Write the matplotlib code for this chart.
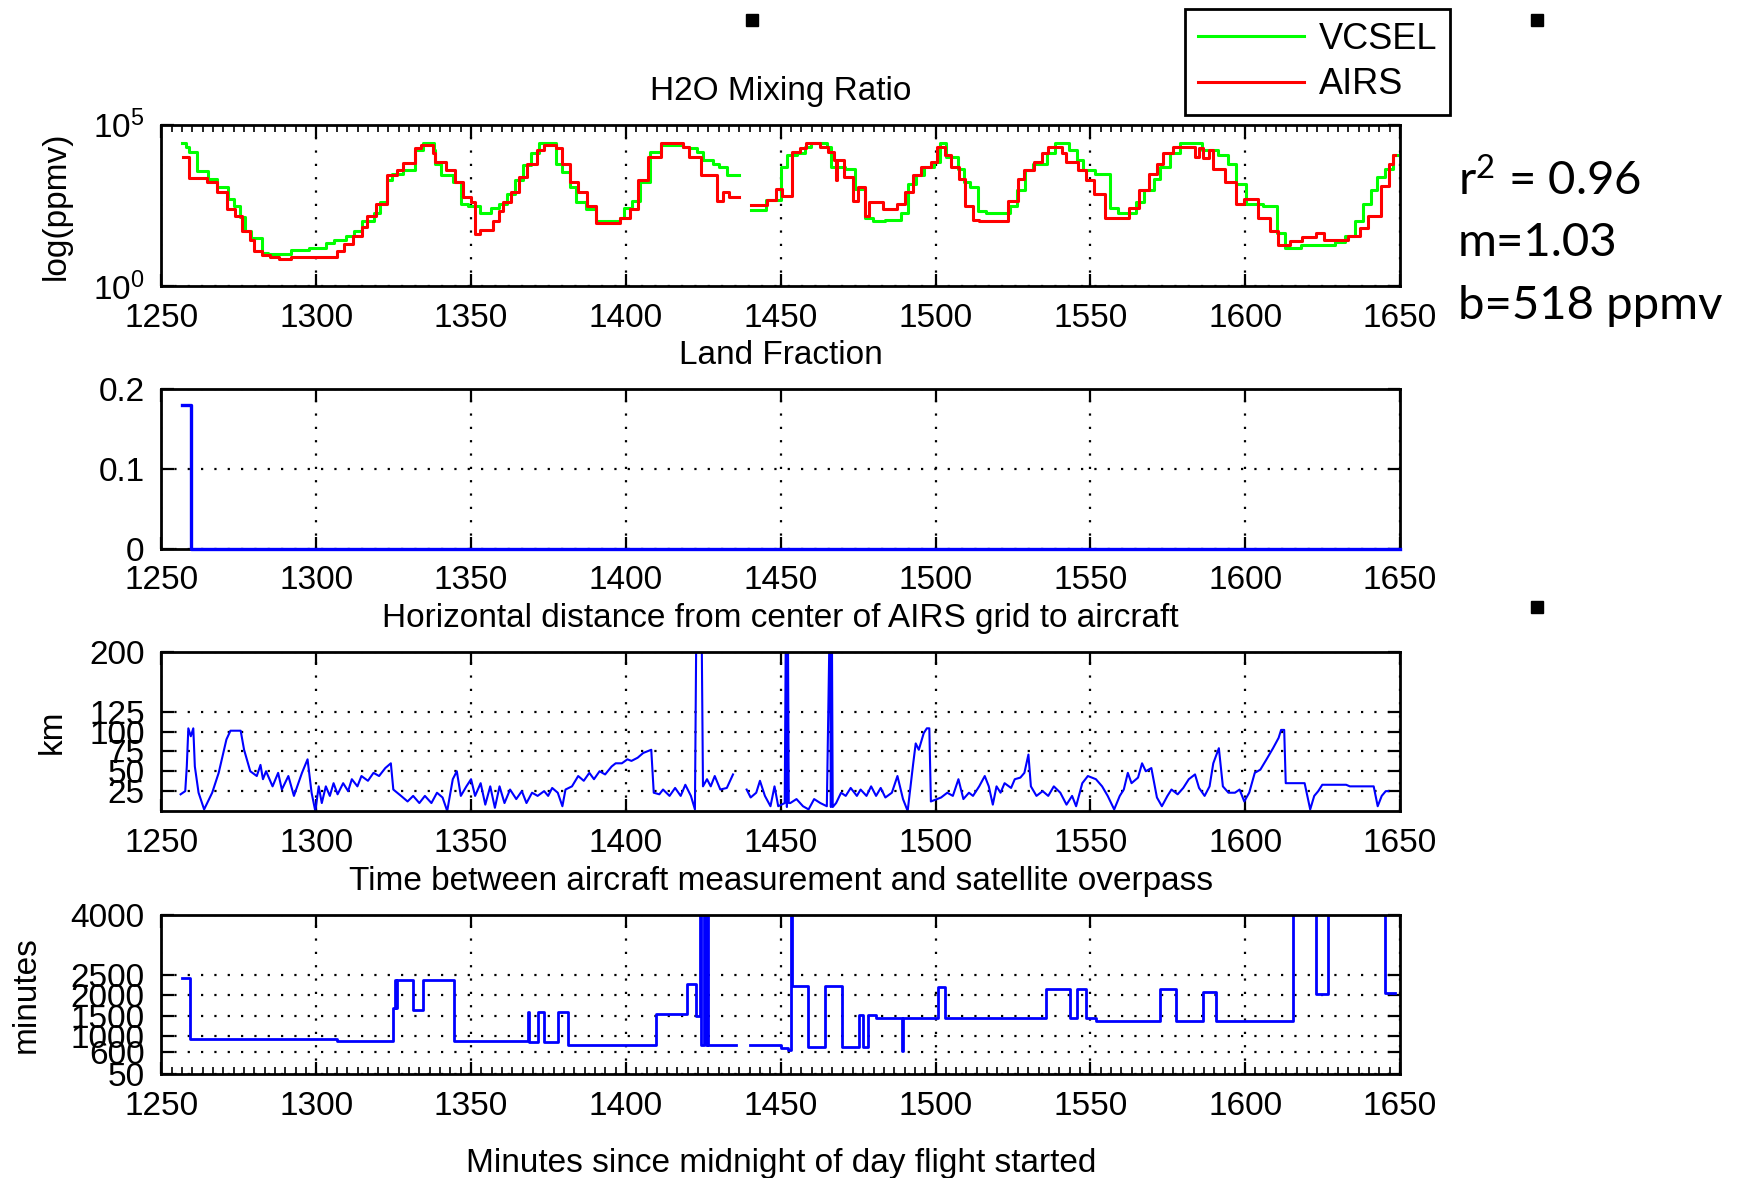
import numpy as np
import matplotlib
matplotlib.use("Agg")
import matplotlib.pyplot as plt
from matplotlib.ticker import MultipleLocator, NullLocator, FixedLocator
from matplotlib.patches import Rectangle

plt.rcParams['font.family'] = ['Liberation Sans', 'DejaVu Sans']
plt.rcParams['mathtext.fontset'] = 'custom'
plt.rcParams['mathtext.rm'] = 'Liberation Sans'
plt.rcParams['mathtext.it'] = 'Liberation Sans'
plt.rcParams['mathtext.default'] = 'regular'

# ---------------- data ----------------
# Panel 1: H2O mixing ratio, step levels given as log10(ppmv); NaN marks the data gap
vcsel_t = [1256.5, 1258.0, 1258.9, 1261.5, 1265.0, 1268.0, 1271.5, 1273.5, 1275.5, 1277.0,
           1279.0, 1282.5, 1284.5, 1292.0, 1297.6, 1303.0, 1305.6, 1309.6, 1312.2, 1314.8,
           1318.7, 1320.6, 1322.7, 1324.6, 1327.9, 1331.8, 1334.4, 1338.0, 1338.5, 1340.4,
           1344.3, 1346.9, 1349.0, 1353.0, 1356.5, 1359.1, 1361.7, 1364.3, 1366.9, 1369.5,
           1372.1, 1377.3, 1379.3, 1381.9, 1383.8, 1387.1, 1390.4, 1398.2, 1399.5, 1402.1,
           1404.7, 1407.9, 1411.2, 1418.4, 1420.3, 1422.9, 1424.8, 1428.1, 1430.0, 1432.6,
           1436.6,
           1440.5, 1445.1, 1450.0, 1452.0, 1455.2, 1457.8, 1459.8, 1464.8, 1466.1, 1470.8,
           1474.1, 1477.3, 1479.9, 1483.8, 1489.0, 1491.0, 1493.6, 1496.2, 1499.5, 1501.4,
           1503.4, 1507.3, 1509.2, 1511.2, 1513.8, 1516.4, 1524.2, 1526.2, 1528.8, 1531.4,
           1536.0, 1538.6, 1543.2, 1545.8, 1547.7, 1551.6, 1556.2, 1558.8, 1564.6, 1567.2,
           1570.4, 1572.4, 1575.6, 1578.9, 1586.0, 1591.3, 1594.5, 1597.1, 1600.4, 1605.6,
           1610.2, 1612.8, 1618.0, 1629.1, 1632.3, 1635.5, 1638.1, 1640.7, 1642.6, 1645.2,
           1647.8, 1649.0]
vcsel_log = [4.44, 4.32, 4.16, 3.55, 3.33, 3.06, 2.70, 2.48, 2.15, 1.70,
             1.49, 1.02, 0.99, 1.12, 1.19, 1.33, 1.44, 1.54, 1.70, 2.00,
             2.27, 2.59, 3.27, 3.48, 3.58, 4.21, 4.42, 4.21, 3.79, 3.43,
             3.22, 2.54, 2.48, 2.27, 2.43, 2.54, 2.85, 3.27, 3.74, 4.11,
             4.42, 3.79, 3.53, 3.06, 2.59, 2.38, 2.01, 2.12, 2.43, 2.64,
             3.22, 4.16, 4.37, 4.32, 4.27, 4.16, 3.90, 3.79, 3.69, 3.45,
             np.nan,
             2.35, 2.67, 3.69, 4.06, 4.11, 4.32, 4.42, 4.32, 3.69, 3.64,
             3.00, 2.12, 2.01, 2.06, 2.27, 3.16, 3.43, 3.69, 3.85, 4.42,
             4.00, 3.64, 3.22, 3.06, 2.33, 2.27, 2.48, 2.96, 3.58, 3.79,
             4.11, 4.42, 4.21, 3.90, 3.58, 3.48, 2.43, 2.27, 2.59, 2.96,
             3.33, 3.69, 4.11, 4.42, 4.21, 4.06, 3.79, 3.16, 2.54, 2.48,
             1.65, 1.17, 1.28, 1.36, 1.54, 2.01, 2.54, 2.96, 3.38, 3.64,
             4.06, 4.06]

airs_t = [1256.9, 1258.9, 1264.7, 1268.0, 1271.2, 1273.8, 1276.0, 1278.6, 1280.0, 1282.6,
          1285.0, 1288.0, 1292.0, 1306.8, 1309.0, 1312.0, 1314.8, 1316.5, 1319.4, 1322.7,
          1326.0, 1328.0, 1331.8, 1333.8, 1337.6, 1338.3, 1341.9, 1344.8, 1347.4, 1350.0,
          1351.3, 1353.0, 1357.2, 1359.1, 1360.4, 1363.0, 1365.6, 1368.2, 1371.4, 1373.4,
          1377.3, 1379.3, 1381.9, 1384.5, 1387.5, 1390.4, 1398.2, 1401.4, 1404.0, 1407.3,
          1411.2, 1418.4, 1420.3, 1424.2, 1429.4, 1431.3, 1433.3, 1436.6,
          1440.5, 1445.7, 1448.4, 1450.4, 1453.6, 1456.2, 1458.2, 1462.8, 1465.4, 1467.3,
          1467.7, 1468.2, 1470.6, 1473.2, 1475.1, 1477.1, 1478.4, 1482.9, 1487.5, 1490.1,
          1492.7, 1495.3, 1498.6, 1500.5, 1503.1, 1505.1, 1507.7, 1509.6, 1512.2, 1514.2,
          1523.3, 1526.6, 1528.5, 1531.8, 1534.4, 1536.3, 1540.9, 1542.2, 1546.1, 1548.7,
          1551.3, 1554.6, 1562.4, 1565.6, 1568.9, 1571.5, 1573.4, 1576.7, 1583.9, 1585.2,
          1586.5, 1588.4, 1589.7, 1593.6, 1596.9, 1599.5, 1604.0, 1608.0, 1610.5, 1614.4,
          1618.3, 1622.9, 1625.5, 1633.3, 1637.2, 1639.8, 1643.8, 1646.4, 1647.7, 1648.5]
airs_log = [4.00, 3.35, 3.22, 2.90, 2.38, 2.17, 1.70, 1.44, 1.07, 0.96,
            0.91, 0.84, 0.91, 1.07, 1.30, 1.54, 1.82, 2.17, 2.54, 3.43,
            3.60, 3.82, 4.27, 4.37, 4.11, 3.85, 3.58, 3.22, 2.75, 2.59,
            1.61, 1.72, 2.01, 2.33, 2.59, 2.90, 3.38, 3.79, 4.21, 4.37,
            4.27, 3.79, 3.22, 2.90, 2.48, 1.96, 2.12, 2.38, 3.27, 4.00,
            4.42, 4.32, 4.00, 3.43, 2.64, 2.90, 2.75, np.nan,
            2.50, 2.67, 3.00, 2.80, 4.16, 4.27, 4.44, 4.32, 4.16, 3.90,
            3.27, 3.90, 3.37, 2.64, 3.06, 2.17, 2.59, 2.38, 2.54, 2.90,
            3.43, 3.69, 3.85, 4.32, 4.06, 3.69, 3.33, 2.48, 2.06, 2.01,
            2.64, 3.33, 3.58, 3.85, 4.11, 4.32, 4.11, 3.85, 3.58, 3.27,
            2.85, 2.12, 2.43, 2.96, 3.48, 3.79, 4.11, 4.32, 4.00, 4.27,
            3.95, 4.21, 3.64, 3.22, 2.54, 2.69, 2.12, 1.70, 1.28, 1.38,
            1.51, 1.65, 1.44, 1.54, 1.80, 2.17, 3.11, 3.79, 4.06, 4.06]

# Panel 2: land fraction (steps)
land_t = [1256.8, 1259.4, 1650.0]
land_v = [0.18, 0.0, 0.0]

# Panel 3: horizontal distance (km)
dist_t = [1256.2, 1257.7, 1258.2, 1258.7, 1259.5, 1260.3, 1260.8, 1262.0, 1263.8, 1266.4,
          1268.5, 1271.0, 1272.3, 1275.6, 1276.7, 1278.7, 1280.8, 1282.0, 1282.8, 1283.8,
          1285.9, 1287.7, 1288.9, 1291.0, 1292.8, 1295.4, 1297.2, 1298.5, 1299.7, 1300.8,
          1301.8, 1303.1, 1304.4, 1305.6, 1306.9, 1308.7, 1310.3, 1311.5, 1313.3, 1314.6,
          1316.7, 1318.5, 1320.3, 1322.3, 1324.1, 1324.9, 1327.4, 1329.5, 1331.3, 1333.3,
          1335.1, 1337.2, 1339.0, 1340.8, 1342.3, 1344.1, 1345.4, 1346.7, 1348.5, 1350.0,
          1351.3, 1353.1, 1354.6, 1356.2, 1357.7, 1359.2, 1360.8, 1362.6, 1364.6, 1366.4,
          1367.9, 1369.7, 1371.5, 1373.6, 1374.9, 1376.2, 1378.0, 1379.5, 1380.5, 1382.6,
          1384.6, 1386.4, 1388.2, 1389.7, 1391.5, 1393.3, 1395.4, 1396.7, 1398.7, 1400.5,
          1401.8, 1403.8, 1405.6, 1408.2, 1409.0, 1410.8, 1412.0, 1414.1, 1415.9, 1417.7,
          1419.2, 1421.0, 1422.3, 1422.8, 1424.4, 1424.9, 1426.2, 1427.4, 1428.7, 1430.5,
          1432.6, 1434.6, 1436.0,
          1439.0, 1440.3, 1442.1, 1443.3, 1444.9, 1446.7, 1448.0, 1449.2, 1451.3, 1451.7,
          1452.0, 1452.3, 1452.6, 1453.1, 1455.1, 1457.2, 1459.0, 1460.8, 1462.8, 1464.9,
          1465.9, 1466.2, 1466.5, 1466.8, 1467.9, 1469.5, 1471.0, 1472.6, 1474.6, 1475.8,
          1477.7, 1479.2, 1480.8, 1482.3, 1483.8, 1485.9, 1487.7, 1489.5, 1491.0, 1492.8,
          1493.6, 1494.6, 1496.2, 1497.2, 1498.0, 1498.5, 1500.5, 1501.8, 1503.8, 1505.6,
          1507.4, 1509.0, 1510.8, 1512.1, 1514.1, 1515.9, 1517.2, 1518.5, 1519.7, 1521.0,
          1522.3, 1524.4, 1525.6, 1527.4, 1528.7, 1530.0, 1530.8, 1532.6, 1534.6, 1536.4,
          1538.2, 1540.3, 1542.3, 1544.1, 1545.4, 1547.4, 1549.2, 1551.8, 1553.8, 1555.6,
          1557.7, 1559.5, 1560.8, 1562.1, 1563.3, 1565.4, 1566.7, 1567.9, 1569.7, 1571.5,
          1573.1, 1574.9, 1576.2, 1578.2, 1580.0, 1581.8, 1583.8, 1585.1, 1586.9, 1588.5,
          1589.7, 1591.5, 1592.8, 1594.6, 1596.7, 1598.2, 1599.7, 1601.3, 1603.1, 1604.9,
          1606.9, 1609.0, 1610.8, 1611.6, 1612.6, 1613.1, 1619.2, 1621.0, 1622.3, 1623.6,
          1624.9, 1632.6, 1633.8, 1641.5, 1642.8, 1644.1, 1645.4, 1646.2]
dist_km = [21, 25, 56, 104, 94, 104, 56, 23, 2, 23,
           48, 90, 101, 101, 77, 50, 44, 58, 40, 50,
           31, 48, 27, 44, 19, 48, 65, 23, 0, 31,
           10, 31, 19, 35, 21, 35, 25, 40, 31, 44,
           38, 48, 44, 54, 60, 27, 19, 12, 19, 10,
           19, 10, 23, 17, 0, 40, 50, 19, 31, 40,
           19, 35, 8, 31, 4, 31, 10, 27, 15, 25,
           10, 23, 19, 25, 19, 29, 23, 6, 27, 31,
           44, 38, 48, 40, 50, 46, 56, 60, 60, 65,
           63, 67, 73, 77, 23, 21, 27, 19, 29, 19,
           33, 19, 2, 260, 260, 31, 40, 31, 44, 27,
           29, 46, np.nan,
           27, 17, 23, 38, 19, 6, 31, 6, 10, 260,
           5, 260, 10, 10, 15, 6, 2, 15, 10, 6,
           260, 5, 260, 5, 10, 23, 19, 29, 19, 27,
           19, 31, 19, 29, 17, 23, 44, 15, 0, 60,
           85, 77, 98, 104, 104, 12, 15, 17, 23, 19,
           40, 15, 23, 19, 31, 44, 31, 8, 31, 23,
           35, 29, 40, 42, 48, 71, 31, 19, 25, 19,
           31, 23, 8, 19, 6, 35, 44, 40, 31, 19,
           2, 19, 27, 48, 35, 42, 60, 50, 54, 17,
           6, 19, 27, 21, 29, 40, 46, 29, 19, 31,
           60, 79, 31, 23, 23, 27, 12, 23, 48, 52,
           65, 79, 92, 102, 102, 35, 35, 2, 19, 25,
           33, 33, 31, 31, 6, 19, 25, 25]

# Panel 4: time between measurement and overpass (minutes, steps)
dt_t = [1256.5, 1259.3, 1306.6, 1324.8, 1325.3, 1325.7, 1326.2, 1331.3, 1334.4, 1344.6,
        1368.4, 1368.8, 1371.5, 1373.4, 1378.0, 1381.2, 1409.6, 1419.8, 1422.5, 1424.0,
        1424.4, 1425.3, 1425.9, 1426.2, 1426.6, 1435.5, 1440.2, 1448.5, 1450.0, 1452.2,
        1453.2, 1453.8, 1458.7, 1464.3, 1469.8, 1475.4, 1476.7, 1478.1, 1480.9, 1489.3,
        1489.6, 1500.7, 1503.1, 1535.6, 1543.3, 1545.7, 1548.5, 1551.9, 1572.6, 1577.8,
        1586.5, 1590.7, 1615.6, 1623.0, 1626.9, 1645.2, 1648.5]
dt_min = [2423, 921, 863, 1676, 2374, 1676, 2374, 1627, 2374, 863,
          1593, 846, 1593, 846, 1593, 780, 1527, 2290, 1485, 4500,
          780, 4500, 780, 4500, 780, np.nan, 780, 780, 700, 656,
          4500, 2232, 714, 2232, 714, 1510, 714, 1510, 1428, 614,
          1428, 2207, 1428, 2149, 1428, 2149, 1428, 1361, 2149, 1361,
          2083, 1361, 4500, 2025, 4500, 2066, 2066]

x_ticks = [1250, 1300, 1350, 1400, 1450, 1500, 1550, 1600, 1650]
km_ticks = [25, 50, 75, 100, 125, 200]
min_ticks = [50, 600, 1000, 1500, 2000, 2500, 4000]
land_ticks = [0, 0.1, 0.2]

titles = ['H2O Mixing Ratio', 'Land Fraction',
          'Horizontal distance from center of AIRS grid to aircraft',
          'Time between aircraft measurement and satellite overpass']
xlabel_text = 'Minutes since midnight of day flight started'
stats_lines = [r'r$^2$ = 0.96', 'm=1.03', 'b=518 ppmv']

# ---------------- figure ----------------
W, H = 1745, 1178
fig = plt.figure(figsize=(W / 100, H / 100), dpi=100)

left = 161.4 / W
width = (1400 - 161.4) / W
panels_px = [(124.6, 286.0), (389.5, 548.7), (652.0, 811.0), (914.8, 1074.0)]
axes = []
for top, bot in panels_px:
    ax = fig.add_axes([left, 1 - bot / H, width, (bot - top) / H])
    axes.append(ax)

FS = 24
grid_style = dict(color='black', linestyle=(0, (1, 5)), linewidth=1.6)

for i, ax in enumerate(axes):
    ax.set_xlim(1250, 1650)
    ax.xaxis.set_major_locator(FixedLocator(x_ticks))
    ax.tick_params(which='major', direction='in', length=9, width=1.6,
                   top=True, right=True, labelsize=FS, pad=12)
    for sp in ax.spines.values():
        sp.set_linewidth(2.0)
    ax.grid(True, which='major', **grid_style)
    ax.set_title(titles[i], fontsize=FS, pad=18)

# Panel 1
ax = axes[0]
ax.set_yscale('log')
ax.set_ylim(1, 1e5)
vt = np.array(vcsel_t); vv = np.power(10.0, np.array(vcsel_log))
at = np.array(airs_t); av = np.power(10.0, np.array(airs_log))
ax.plot(vt, vv, color=(0, 1, 0), lw=2.2, drawstyle='steps-post', label='VCSEL')
ax.plot(at, av, color=(1, 0, 0), lw=2.2, drawstyle='steps-post', label='AIRS')
ax.yaxis.set_major_locator(FixedLocator([1, 1e5]))
ax.set_yticklabels([r'$10^{0}$', r'$10^{5}$'])
ax.yaxis.set_minor_locator(NullLocator())
ax.xaxis.set_minor_locator(MultipleLocator(50 / 15))
ax.tick_params(which='minor', direction='in', length=5, width=1.2, top=True, bottom=False)
ax.set_ylabel('log(ppmv)', fontsize=FS)
ax.yaxis.set_label_coords(-0.072, 0.5)

leg = ax.legend(loc='upper left', bbox_to_anchor=(1185 / W, 1 - 9 / H),
                bbox_transform=fig.transFigure, fontsize=26, frameon=True,
                fancybox=False, edgecolor='black', framealpha=1,
                handlelength=2.95, handletextpad=0.4, borderpad=0.35,
                labelspacing=0.3, borderaxespad=0)
leg.get_frame().set_linewidth(2.0)
for ln in leg.get_lines():
    ln.set_linewidth(2.2)

# Panel 2
ax = axes[1]
ax.set_ylim(0, 0.2)
ax.yaxis.set_major_locator(FixedLocator(land_ticks))
ax.set_yticklabels(['0', '0.1', '0.2'])
ax.plot(land_t, land_v, color=(0, 0, 1), lw=2.4, drawstyle='steps-post',
        clip_on=False, zorder=5)

# Panel 3
ax = axes[2]
ax.set_ylim(0, 200)
ax.yaxis.set_major_locator(FixedLocator(km_ticks))
ax.plot(dist_t, dist_km, color=(0, 0, 1), lw=1.5)
ax.set_ylabel('km', fontsize=FS)
ax.yaxis.set_label_coords(-0.076, 0.5)

# Panel 4
ax = axes[3]
ax.set_ylim(50, 4000)
ax.yaxis.set_major_locator(FixedLocator(min_ticks))
ax.plot(dt_t, dt_min, color=(0, 0, 1), lw=2.0, drawstyle='steps-post')
ax.set_ylabel('minutes', fontsize=FS)
ax.yaxis.set_label_coords(-0.097, 0.5)
ax.xaxis.set_minor_locator(MultipleLocator(50 / 15))
ax.tick_params(which='minor', direction='in', length=5, width=1.2, top=False, bottom=True)
ax.set_xlabel(xlabel_text, fontsize=FS, labelpad=19)

# Right-hand statistics text
for k, s in enumerate(stats_lines):
    fig.text(1458 / W, 1 - (180 + 63 * k) / H, s, fontsize=34, family=['Lato', 'DejaVu Sans'],
             ha='left', va='center')

# Small black squares (artifacts of the original slide)
for cx, cy in [(752, 20), (1537, 20), (1537, 607)]:
    fig.add_artist(Rectangle(((cx - 6) / W, 1 - (cy + 6) / H), 12 / W, 12 / H,
                             transform=fig.transFigure, color='black'))

fig.savefig('out.png', dpi=100)
